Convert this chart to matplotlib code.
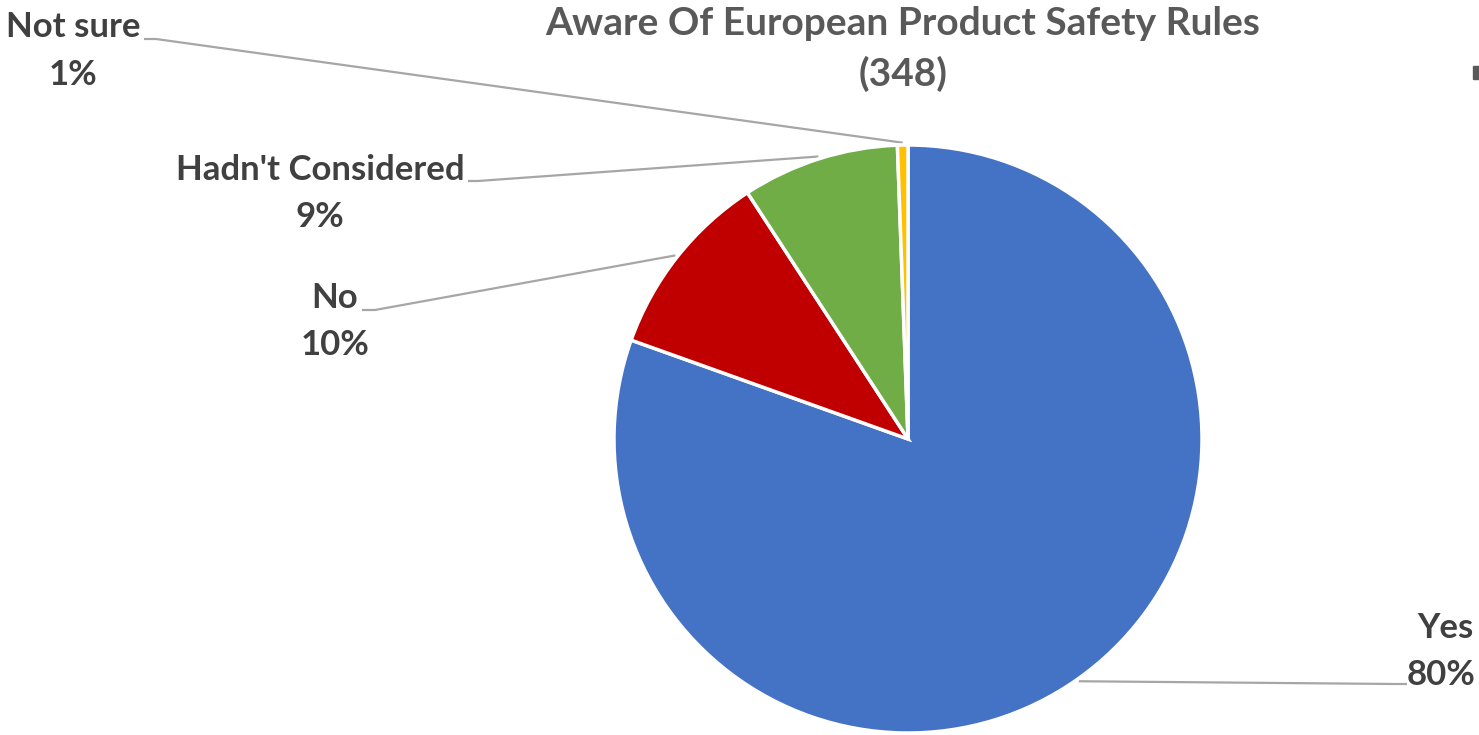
import numpy as np
import matplotlib
matplotlib.use("Agg")
import matplotlib.pyplot as plt
from matplotlib.patches import Rectangle

# Survey responses (n = 348)
categories = ["Yes", "No", "Hadn't Considered", "Not sure"]
counts = [280, 36, 30, 2]
colors = ["#4472C4", "#C00000", "#70AD47", "#FFC000"]
title_lines = ["Aware Of European Product Safety Rules", "(348)"]

W, H = 1479, 735
fig = plt.figure(figsize=(W / 100, H / 100), dpi=100)
ax = fig.add_axes([0, 0, 1, 1])
ax.set_xlim(0, W)
ax.set_ylim(0, H)
ax.set_aspect("equal")
ax.axis("off")


def Y(py):
    """Convert a top-down pixel row to the axes' bottom-up coordinate."""
    return H - py


FONT = "Lato"
LABEL_COLOR = "#404040"
TITLE_COLOR = "#595959"
LINE_COLOR = "#A6A6A6"
LABEL_SIZE = 25
TITLE_SIZE = 28

cx, cy, R = 908, Y(439), 294
wedges, _ = ax.pie(
    counts, colors=colors, startangle=90, counterclock=False,
    center=(cx, cy), radius=R, frame=True,
    wedgeprops=dict(edgecolor="white", linewidth=2.5),
)
ax.set_xlim(0, W)
ax.set_ylim(0, H)
ax.axis("off")

total = sum(counts)
pcts = [f"{round(100 * c / total):.0f}%" for c in counts]

# label placement: (name centre, pct centre, leader start, elbow)
layout = {
    "Yes": ((1445, 628), (1441, 675), (1407, 684), (1395, 684)),
    "No": ((335, 298), (335, 345), (362, 310), (375, 310)),
    "Hadn't Considered": ((320, 170), (320, 217), (468, 181), (478, 181)),
    "Not sure": ((73, 27), (73, 75), (144, 39), (156, 39)),
}

for w, name, pct in zip(wedges, categories, pcts):
    (nx, ny), (px, py), (sx, sy), (ex, ey) = layout[name]
    ax.text(nx, Y(ny), name, ha="center", va="center", fontsize=LABEL_SIZE,
            fontweight="bold", family=FONT, color=LABEL_COLOR)
    ax.text(px, Y(py), pct, ha="center", va="center", fontsize=LABEL_SIZE,
            fontweight="bold", family=FONT, color=LABEL_COLOR)
    mid = np.deg2rad((w.theta1 + w.theta2) / 2)
    ax_, ay_ = cx + 1.008 * R * np.cos(mid), cy + 1.008 * R * np.sin(mid)
    ax.plot([sx, ex, ax_], [Y(sy), Y(ey), ay_], color=LINE_COLOR,
            linewidth=1.6, solid_capstyle="butt", zorder=0.5)

ax.text(903, Y(23), title_lines[0], ha="center", va="center",
        fontsize=TITLE_SIZE, fontweight="bold", family=FONT, color=TITLE_COLOR)
ax.text(903, Y(74), title_lines[1], ha="center", va="center",
        fontsize=TITLE_SIZE, fontweight="bold", family=FONT, color=TITLE_COLOR)

# small clipped marker at the right edge
fig.patches.append(Rectangle((1473 / W, Y(79) / H), 6 / W, 13 / H,
                             transform=fig.transFigure, color="#595959"))

fig.savefig("out.png", dpi=100, facecolor="white")
